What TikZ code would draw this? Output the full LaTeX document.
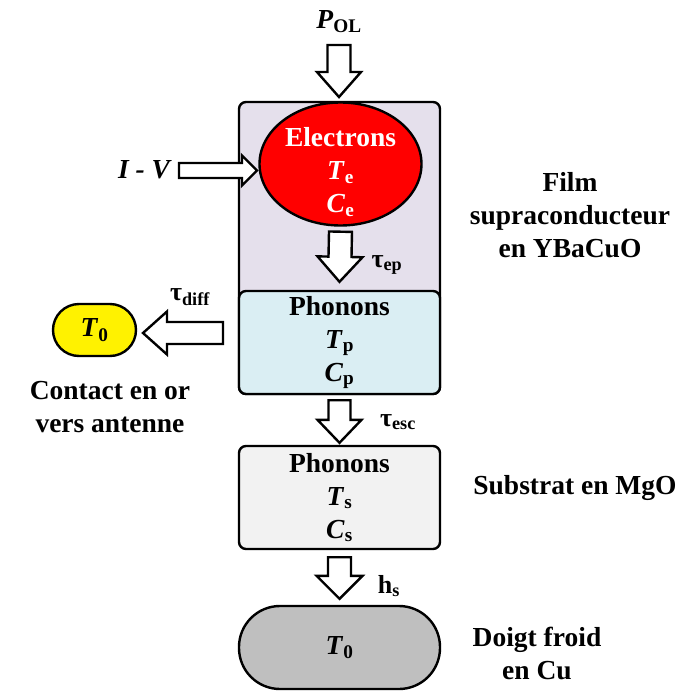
\documentclass[tikz,border=0pt]{standalone}
\usepackage{fontspec}
\setmainfont{Liberation Serif}
\usepackage{tikz}
\usetikzlibrary{calc,positioning,shapes.geometric}
\definecolor{filmviolet}{RGB}{229,224,236}
\definecolor{phononblue}{RGB}{218,238,243}
\definecolor{substgray}{RGB}{242,242,242}
\definecolor{fingergray}{RGB}{191,191,191}

% hollow block arrow: start, tip, shaft half width, head half width, head length
\newcommand{\fatarrow}[5]{%
  \coordinate (hb) at ($(#2)!#5!(#1)$);
  \draw[fatarr] ($(#1)!#3!90:(#2)$) -- ($(hb)!#3!90:(#2)$) -- ($(hb)!#4!90:(#2)$) -- (#2)
    -- ($(hb)!#4!-90:(#2)$) -- ($(hb)!#3!-90:(#2)$) -- ($(#1)!#3!-90:(#2)$) -- cycle;}

\begin{document}
\begin{tikzpicture}[
  x=1pt, y=-1pt,
  font=\fontsize{27.5}{33}\selectfont\bfseries,
  box/.style={draw, line width=2.4pt, rounded corners=7pt, align=center, inner sep=0pt},
  stadium/.style={draw, line width=2.4pt, align=center, inner sep=0pt},
  fatarr/.style={draw, fill=white, line width=2.4pt, line join=miter},
  lbl/.style={font=\fontsize{26}{30}\selectfont\bfseries},
  side/.style={align=center}
]
\useasboundingbox (0,0) rectangle (679,693);

% film, electrons and phonons
\node (pol) at (339,22) {\textit{P}\textsubscript{OL}};
\node[box, fill=filmviolet, minimum width=201pt, minimum height=292pt] (film) at (339.5,248) {};
\node[box, fill=phononblue, minimum width=201pt, minimum height=103pt] (phon) at (339.5,342.5)
  {Phonons\\\textit{T}\textsubscript{p}\\\textit{C}\textsubscript{p}};
\node[ellipse, draw, line width=2.4pt, fill=red, minimum width=162pt, minimum height=123pt, inner sep=0pt] (elec) at (340.5,164) {};
\node[text=white, align=center] (electxt) at (340.5,172)
  {Electrons\\\textit{T}\textsubscript{e}\\\textit{C}\textsubscript{e}};

% substrate and cold finger
\node[box, fill=substgray, minimum width=201pt, minimum height=103pt] (subst) at (339.5,497.5)
  {Phonons\\\textit{T}\textsubscript{s}\\\textit{C}\textsubscript{s}};
\node[stadium, fill=fingergray, rounded corners=41pt, minimum width=201pt, minimum height=83pt] (finger) at (339.5,647.5)
  {\textit{T}\textsubscript{0}};
\node[stadium, fill=yellow, rounded corners=26pt, minimum width=83pt, minimum height=52pt] (contact) at (94.5,330)
  {\textit{T}\textsubscript{0}};

% side texts
\node[side] (filmlbl) at (570,215) {Film\\supraconducteur\\en YBaCuO};
\node (subslbl) at (575,488) {Substrat en MgO};
\node[side] (fingerlbl) at (537,653) {Doigt froid\\en Cu};
\node[side] (contactlbl) at (110,407) {Contact en or\\vers antenne};
\node (iv) at (145,170) {\textit{I - V}};

% block arrows
\coordinate (polS) at (339,45);
\coordinate (polE) at (339,97);
\fatarrow{polS}{polE}{11.5pt}{22pt}{25pt}
\coordinate (ivS) at (179,170.5);
\coordinate (ivE) at (257,170.5);
\fatarrow{ivS}{ivE}{7.5pt}{15pt}{15pt}
\coordinate (epS) at ([yshift=-5pt]elec.south);
\coordinate (epE) at ([yshift=8pt]phon.north);
\fatarrow{epS}{epE}{11.5pt}{22.5pt}{25pt}
\coordinate (diffS) at (223,333);
\coordinate (diffE) at (143,333);
\fatarrow{diffS}{diffE}{11pt}{21.5pt}{24pt}
\coordinate (escS) at ([yshift=-5pt]phon.south);
\coordinate (escE) at ([yshift=2pt]subst.north);
\fatarrow{escS}{escE}{11pt}{22pt}{23pt}
\coordinate (hsS) at ([yshift=-7pt]subst.south);
\coordinate (hsE) at ([yshift=6pt]finger.north);
\fatarrow{hsS}{hsE}{11.5pt}{23pt}{23pt}

% time constants
\node[lbl] (tep) at (387,265) {τ\textsubscript{ep}};
\node[lbl] (tdiff) at (190,297) {τ\textsubscript{diff}};
\node[lbl] (tesc) at (398,422) {τ\textsubscript{esc}};
\node[lbl] (hs) at (389,586) {h\textsubscript{s}};
\end{tikzpicture}
\end{document}
